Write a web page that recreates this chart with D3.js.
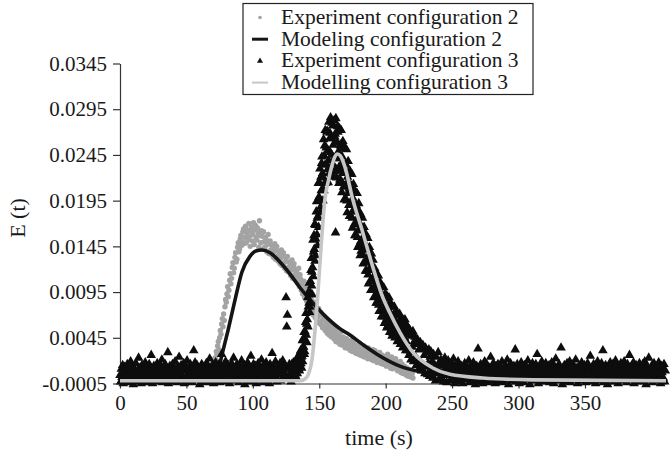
<!DOCTYPE html>
<html><head><meta charset="utf-8">
<script src="https://cdn.jsdelivr.net/npm/d3@7"></script>
<style>
body{margin:0;background:#fff}
svg{display:block}
text{font-family:"Liberation Serif","Times New Roman",serif;fill:#1a1a1a}
</style>
</head><body>
<svg id="chart" width="671" height="451"></svg>
<script>
// ---------- data ----------
const xTicks = [0, 50, 100, 150, 200, 250, 300, 350];
const yTicks = [-0.0005, 0.0045, 0.0095, 0.0145, 0.0195, 0.0245, 0.0295, 0.0345];
const legendLabels = ["Experiment configuration 2", "Modeling configuration 2", "Experiment configuration 3", "Modelling configuration 3"];
const xTitle = "time (s)";
const yTitle = "E (t)";

// Experiment configuration 2 (sampled every 0.5 s from t = 60 s)
const exp2Start = 60, exp2Step = 0.5;
const exp2Values = [
.0002,-.0003,.0005,.0000,-.0001,.0004,.0003,.0007,.0001,.0006,.0008,.0002,.0004,.0010,.0009,.0003,.0012,.0006,.0008,.0015,
.0017,.0010,.0014,.0023,.0021,.0030,.0027,.0036,.0041,.0032,.0045,.0053,.0049,.0060,.0066,.0057,.0071,.0064,.0079,.0087,
.0084,.0093,.0101,.0090,.0097,.0108,.0115,.0104,.0110,.0122,.0127,.0116,.0121,.0133,.0138,.0128,.0131,.0144,.0149,.0139,
.0142,.0153,.0157,.0146,.0150,.0161,.0164,.0148,.0155,.0167,.0149,.0160,.0163,.0152,.0170,.0156,.0145,.0162,.0166,.0151,
.0158,.0171,.0147,.0163,.0168,.0155,.0152,.0165,.0160,.0144,.0173,.0157,.0149,.0162,.0156,.0142,.0161,.0150,.0144,.0155,
.0152,.0139,.0147,.0158,.0137,.0149,.0151,.0141,.0136,.0146,.0143,.0133,.0139,.0148,.0131,.0142,.0145,.0134,.0129,.0139,
.0137,.0126,.0132,.0141,.0124,.0135,.0138,.0127,.0121,.0133,.0129,.0118,.0134,.0122,.0117,.0128,.0125,.0113,.0119,.0130,
.0110,.0123,.0126,.0114,.0108,.0119,.0117,.0105,.0112,.0121,.0101,.0114,.0109,.0097,.0104,.0093,.0098,.0107,.0089,.0101,
.0096,.0085,.0091,.0080,.0084,.0095,.0077,.0088,.0086,.0073,.0079,.0070,.0075,.0084,.0067,.0078,.0072,.0063,.0068,.0077,
.0061,.0070,.0073,.0059,.0064,.0056,.0058,.0068,.0065,.0053,.0055,.0062,.0050,.0060,.0058,.0048,.0053,.0061,.0046,.0055,
.0057,.0049,.0044,.0052,.0050,.0041,.0054,.0046,.0040,.0049,.0047,.0038,.0043,.0052,.0037,.0045,.0046,.0039,.0041,.0034,
.0035,.0044,.0042,.0036,.0033,.0040,.0039,.0031,.0036,.0043,.0030,.0038,.0041,.0033,.0034,.0028,.0029,.0037,.0035,.0027,
.0031,.0039,.0026,.0034,.0033,.0025,.0028,.0036,.0024,.0031,.0032,.0026,.0027,.0022,.0034,.0029,.0023,.0030,.0029,.0021,
.0025,.0032,.0020,.0028,.0031,.0024,.0022,.0018,.0027,.0023,.0019,.0029,.0025,.0017,.0021,.0026,.0016,.0023,.0024,.0019,
.0018,.0014,.0022,.0027,.0015,.0020,.0021,.0012,.0017,.0024,.0011,.0019,.0020,.0014,.0013,.0022,.0018,.0010,.0009,.0016,
.0015,.0012,.0019,.0007,.0011,.0016,.0006,.0013,.0014,.0009,.0008,.0004,.0012,.0006,.0003,.0010,.0009,.0005,.0002,.0008,
.0006,.0001
];

// Modeling configuration 2
const model2Time = [0, 71.5, 73, 76.7, 81.3, 86.5, 91.8, 97.8, 102.3, 106.8, 112.9, 120.4, 127.9, 135.4, 145.2, 154.3, 165.5, 173.1, 184.3, 193.4, 203.2, 210.7, 225.7, 248.3, 286, 331, 411];
const model2Values = [-0.0002, -0.0002, 0.0003, 0.0026, 0.0053, 0.0086, 0.0117, 0.0134, 0.0140, 0.0141, 0.0138, 0.0128, 0.0115, 0.0100, 0.0083, 0.0069, 0.0055, 0.0048, 0.0036, 0.0027, 0.0019, 0.0014, 0.0008, 0.0003, 0.0000, -0.0002, -0.0002];

// Experiment configuration 3: three sampled segments
const exp3aStart = 0, exp3aStep = 0.5;
const exp3aValues = [
.0004,-.0003,.0011,.0002,.0015,-.0005,.0007,.0013,-.0001,.0009,.0003,.0016,-.0004,.0006,.0012,.0000,
.0019,-.0002,.0008,.0014,-.0006,.0005,.0010,.0002,.0017,-.0003,.0009,.0004,.0023,-.0001,.0012,.0006,
-.0005,.0015,.0003,.0010,-.0002,.0007,.0018,.0001,.0013,-.0004,.0008,.0005,.0016,-.0001,.0011,.0026,
.0002,-.0005,.0009,.0014,.0004,-.0003,.0012,.0007,.0017,.0000,.0010,-.0002,.0006,.0015,.0003,.0021,
-.0004,.0008,.0013,.0001,.0016,-.0001,.0011,.0005,.0029,-.0005,.0009,.0014,.0002,.0007,-.0003,.0016,
.0004,.0012,-.0001,.0019,.0006,.0010,-.0004,.0013,.0003,.0024,.0008,-.0002,.0015,.0005,.0011,.0000,
.0017,-.0005,.0009,.0014,.0002,.0020,.0006,-.0003,.0012,.0008,.0016,.0001,.0010,-.0004,.0013,.0031,
.0004,.0018,-.0001,.0009,.0015,.0003,.0011,.0006,-.0006,.0012,.0002,.0016,-.0002,.0008,.0013,.0005,
.0010,-.0004,.0017,.0001,.0007,.0014,-.0003,.0022,.0005,.0011,.0000,.0015,.0008,-.0005,.0012,.0003,
.0018,.0006,-.0002,.0013,.0009,.0016,-.0004,.0004,.0011,.0027,.0001,.0008,-.0001,.0014,.0006,.0019,
-.0003,.0010,.0005,.0015,.0002,-.0005,.0012,.0007,.0017,.0000,.0009,.0023,.0004,-.0002,.0013,.0008,
.0016,.0001,.0011,-.0004,.0006,.0014,.0003,.0020,-.0001,.0010,.0005,.0015,-.0006,.0009,.0012,.0002,
.0018,.0007,-.0003,.0013,.0004,.0025,.0008,-.0002,.0011,.0016,.0000,.0006,.0014,-.0005,.0010,.0003,
.0017,.0009,-.0001,.0012,.0005,.0021,.0002,-.0004,.0015,.0007,.0011,.0001,.0018,-.0002,.0008,.0013,
.0004,-.0005,.0016,.0010,.0003,.0028,.0006,-.0001,.0012,.0008,.0019,.0002,-.0003,.0014,.0005,.0011,
.0009,.0017,-.0002,.0013,.0006,.0020,.0001,.0010,.0015,.0004,.0089,.0057,.0070,.0012,.0003,.0016
];
const exp3bStart = 128, exp3bStep = 0.25;
const exp3bValues = [
.0013,.0001,.0007,-.0003, .0004,.0016,.0000,.0011, .0013,.0007,.0018,.0002, .0001,.0012,.0007,.0017,
.0018,.0006,.0012,.0002, .0010,.0022,.0006,.0017, .0021,.0015,.0026,.0010, .0009,.0023,.0017,.0029,
.0031,.0017,.0024,.0012, .0025,.0042,.0019,.0035, .0044,.0035,.0051,.0027, .0030,.0052,.0042,.0062,
.0072,.0048,.0060,.0040, .0065,.0089,.0057,.0079, .0095,.0083,.0105,.0073, .0079,.0107,.0094,.0119,
.0132,.0102,.0117,.0092, .0122,.0152,.0112,.0139, .0157,.0142,.0169,.0129, .0135,.0168,.0153,.0183,
.0194,.0158,.0176,.0146, .0178,.0214,.0166,.0199, .0215,.0197,.0230,.0182, .0188,.0221,.0206,.0236,
.0243,.0207,.0225,.0195, .0220,.0262,.0206,.0244, .0255,.0234,.0272,.0216, .0214,.0253,.0235,.0270,
.0271,.0229,.0250,.0215, .0239,.0281,.0225,.0263, .0269,.0248,.0286,.0230, .0224,.0263,.0245,.0280,
.0277,.0235,.0256,.0221, .0241,.0283,.0227,.0265, .0268,.0160,.0285,.0229, .0220,.0259,.0241,.0276,
.0270,.0228,.0249,.0214, .0232,.0274,.0218,.0256, .0255,.0234,.0272,.0216, .0204,.0243,.0225,.0260,
.0252,.0210,.0231,.0196, .0211,.0253,.0197,.0235, .0234,.0213,.0251,.0195, .0182,.0221,.0203,.0238,
.0226,.0190,.0208,.0178, .0191,.0227,.0179,.0212, .0209,.0191,.0224,.0176, .0165,.0198,.0183,.0213,
.0205,.0169,.0187,.0157, .0169,.0205,.0157,.0190, .0188,.0170,.0203,.0155, .0144,.0177,.0162,.0192,
.0183,.0147,.0165,.0135, .0150,.0180,.0140,.0167, .0164,.0149,.0176,.0136, .0126,.0154,.0141,.0166,
.0158,.0128,.0143,.0118, .0128,.0158,.0118,.0145, .0142,.0127,.0154,.0114, .0104,.0132,.0119,.0144,
.0137,.0107,.0122,.0097, .0107,.0137,.0097,.0124, .0120,.0108,.0130,.0098, .0089,.0111,.0101,.0121,
.0115,.0091,.0103,.0083, .0091,.0115,.0083,.0105, .0103,.0091,.0113,.0081, .0074,.0096,.0086,.0106,
.0100,.0076,.0088,.0068, .0077,.0101,.0069,.0091, .0090,.0078,.0100,.0068, .0061,.0083,.0073,.0093,
.0088,.0064,.0076,.0056, .0066,.0090,.0058,.0080, .0079,.0067,.0089,.0057, .0051,.0073,.0063,.0083,
.0079,.0055,.0067,.0047, .0058,.0079,.0050,.0070, .0070,.0059,.0079,.0050, .0045,.0064,.0055,.0073,
.0070,.0048,.0059,.0041, .0050,.0071,.0042,.0062, .0062,.0051,.0071,.0042, .0038,.0057,.0048,.0066,
.0063,.0041,.0052,.0034, .0043,.0064,.0035,.0055, .0056,.0045,.0065,.0036, .0031,.0050,.0041,.0059
];
const exp3cStart = 216, exp3cStep = 0.5;
const exp3cValues = [
.0058,.0031,.0049,.0026,.0054,.0029,.0021,.0047,.0035,.0052,.0019,.0041,.0046,.0024,.0015,.0038,
.0043,.0020,.0032,.0012,.0040,.0018,.0009,.0033,.0037,.0015,.0026,.0006,.0034,.0013,.0029,.0005,
.0017,.0032,.0003,.0024,.0030,.0010,.0019,.0001,.0027,.0008,.0015,-.0002,.0024,.0006,.0013,.0029,
-.0001,.0018,.0007,.0021,.0002,.0015,.0019,-.0003,.0010,.0023,.0004,.0016,-.0004,.0012,.0020,.0006,
.0014,-.0002,.0009,.0018,.0001,.0013,.0022,.0005,-.0005,.0011,.0016,.0003,.0008,.0019,-.0001,.0012,
.0005,-.0003,.0014,.0008,-.0005,.0011,.0002,.0017,.0006,-.0001,.0013,.0003,.0009,.0020,-.0004,.0007,
.0015,.0001,.0010,-.0002,.0018,.0005,.0012,-.0006,.0008,.0014,.0000,.0033,.0004,-.0003,.0011,.0016,
.0002,.0009,-.0005,.0013,.0006,.0019,-.0001,.0010,.0004,.0015,-.0004,.0008,.0012,.0001,.0024,.0005,
-.0002,.0011,.0017,.0003,.0009,-.0005,.0014,.0007,.0000,.0016,.0010,-.0003,.0006,.0013,.0002,.0019,
.0008,-.0004,.0012,.0005,.0015,-.0001,.0009,.0021,.0003,-.0006,.0011,.0006,.0017,.0001,.0013,-.0002,
.0007,.0014,.0004,.0032,-.0003,.0010,.0016,.0002,.0008,-.0005,.0012,.0005,.0018,.0000,.0011,.0006,
-.0004,.0015,.0009,.0003,.0013,-.0001,.0020,.0007,.0010,-.0006,.0014,.0004,.0008,.0017,.0001,.0012,
.0005,-.0002,.0016,.0009,.0027,.0003,-.0005,.0011,.0006,.0014,.0000,.0019,.0008,-.0003,.0013,.0004,
.0010,.0017,-.0001,.0007,.0012,.0002,.0015,-.0004,.0009,.0005,.0018,.0001,.0011,-.0005,.0014,.0006,
.0022,.0003,-.0002,.0013,.0008,.0016,.0000,.0010,.0034,.0004,-.0006,.0012,.0007,.0015,.0002,.0009,
-.0003,.0017,.0005,.0011,.0001,.0019,-.0004,.0008,.0013,.0003,.0016,-.0001,.0010,.0006,.0021,.0002,
.0012,-.0005,.0007,.0014,.0004,.0009,-.0002,.0018,.0006,.0011,.0000,.0015,.0003,-.0004,.0013,.0008,
.0017,.0001,.0010,-.0003,.0025,.0005,.0012,-.0001,.0008,.0016,.0002,.0011,-.0005,.0014,.0007,.0019,
.0003,-.0002,.0013,.0009,.0000,.0017,.0006,.0031,-.0004,.0010,.0004,.0015,.0001,.0012,-.0006,.0008,
.0014,.0005,.0018,-.0001,.0011,.0003,.0016,.0007,-.0003,.0012,.0020,.0002,.0009,.0015,-.0005,.0006,
.0010,.0001,.0017,.0004,-.0002,.0013,.0008,.0019,.0000,.0011,.0005,-.0004,.0016,.0003,.0012,.0026,
-.0001,.0009,.0014,.0006,.0002,.0018,-.0005,.0010,.0004,.0015,.0007,-.0002,.0012,.0001,.0017,.0008,
.0013,-.0003,.0005,.0016,.0011,.0000,.0019,.0006,-.0006,.0014,.0003,.0010,.0023,-.0001,.0008,.0012,
.0004,.0015,-.0004,.0009,.0017,.0002,.0011,.0006,-.0002,.0013,.0005,.0018,.0000,.0010,-.0005,.0014,
.0007,.0012,.0001,.0016,-.0003,.0009
];

// Modelling configuration 3
const model3Time = [0, 135.4, 139.2, 141.5, 144.5, 148.6, 151.2, 154.2, 156.9, 159.3, 161.4, 163.7, 165.9, 169.3, 175.3, 182.8, 190.4, 197.1, 203.2, 210.7, 220.5, 235.5, 248.3, 273.1, 310.8, 411];
const model3Values = [-0.0002, -0.0002, 0.0000, 0.0004, 0.0021, 0.0086, 0.0141, 0.0196, 0.0217, 0.0232, 0.0242, 0.0246, 0.0244, 0.0232, 0.0196, 0.0160, 0.0122, 0.0092, 0.0072, 0.0051, 0.0029, 0.0012, 0.0005, 0.0001, -0.0001, -0.0002];

// ---------- build ----------
const seg = (start, step, vals) => vals.map((v, i) => ({t: start + i * step, e: v}));
const exp2 = seg(exp2Start, exp2Step, exp2Values);
const exp3 = [].concat(seg(exp3aStart, exp3aStep, exp3aValues), seg(exp3bStart, exp3bStep, exp3bValues), seg(exp3cStart, exp3cStep, exp3cValues));
const model2 = model2Time.map((t, i) => ({t, e: model2Values[i]}));
const model3 = model3Time.map((t, i) => ({t, e: model3Values[i]}));

const svg = d3.select("#chart");
const x = d3.scaleLinear().domain([0, 411]).range([120, 666]);
const y = d3.scaleLinear().domain([-0.0005, 0.0345]).range([383.5, 63.5]);

const FONT = 21;
const ink = "#1a1a1a";

// axes
const yAxis = svg.append("g").attr("transform", "translate(120,0)")
  .call(d3.axisLeft(y).tickValues(yTicks).tickFormat(d => d.toFixed(4)).tickSize(7).tickSizeOuter(0).tickPadding(6));
const xAxis = svg.append("g").attr("transform", "translate(0,383.5)")
  .call(d3.axisBottom(x).tickValues(xTicks).tickFormat(d3.format("d")).tickSize(5).tickSizeOuter(0).tickPadding(7));
[xAxis, yAxis].forEach(g => {
  g.attr("font-family", null).attr("font-size", null);
  g.selectAll("text").style("font-size", FONT + "px").attr("fill", ink);
  g.selectAll("line,path").attr("stroke", "#333").attr("stroke-width", 1.2);
});

svg.append("text").attr("x", 379).attr("y", 445).attr("text-anchor", "middle")
  .style("font-size", "22px").text(xTitle);
svg.append("text").attr("transform", "translate(25,218) rotate(-90)").attr("text-anchor", "middle")
  .style("font-size", "22px").text(yTitle);

// series (drawn in legend order)
const plot = svg.append("g");
plot.append("g").selectAll("circle").data(exp2).join("circle")
  .attr("cx", d => x(d.t)).attr("cy", d => y(d.e)).attr("r", 2.7).attr("fill", "#a3a3a3");

const line = d3.line().x(d => x(d.t)).y(d => y(d.e)).curve(d3.curveMonotoneX);
plot.append("path").datum(model2).attr("d", line).attr("fill", "none").attr("stroke", "#151515").attr("stroke-width", 3.6);

const tri = d3.symbol(d3.symbolTriangle, 40);
plot.append("g").selectAll("path").data(exp3).join("path")
  .attr("d", tri).attr("transform", d => `translate(${x(d.t)},${y(d.e)})`).attr("fill", "#0d0d0d");

plot.append("path").datum(model3).attr("d", line).attr("fill", "none").attr("stroke", "#c6c6c6").attr("stroke-width", 3.6);

// legend
const lg = svg.append("g");
lg.append("rect").attr("x", 243).attr("y", 3.5).attr("width", 290).attr("height", 91)
  .attr("fill", "#fff").attr("stroke", "#222").attr("stroke-width", 1.2);
const rowY = [17.5, 39.2, 60.9, 82.6];
legendLabels.forEach((lab, i) => {
  lg.append("text").attr("x", 281).attr("y", rowY[i] + 6.5).style("font-size", "21.5px").text(lab);
});
lg.append("circle").attr("cx", 260).attr("cy", rowY[0]).attr("r", 1.8).attr("fill", "#a3a3a3");
lg.append("line").attr("x1", 252).attr("x2", 268).attr("y1", rowY[1]).attr("y2", rowY[1]).attr("stroke", "#151515").attr("stroke-width", 3);
lg.append("path").attr("d", d3.symbol(d3.symbolTriangle, 16)).attr("transform", `translate(260,${rowY[2]})`).attr("fill", "#111");
lg.append("line").attr("x1", 252).attr("x2", 268).attr("y1", rowY[3]).attr("y2", rowY[3]).attr("stroke", "#c6c6c6").attr("stroke-width", 2);
</script>
</body></html>
